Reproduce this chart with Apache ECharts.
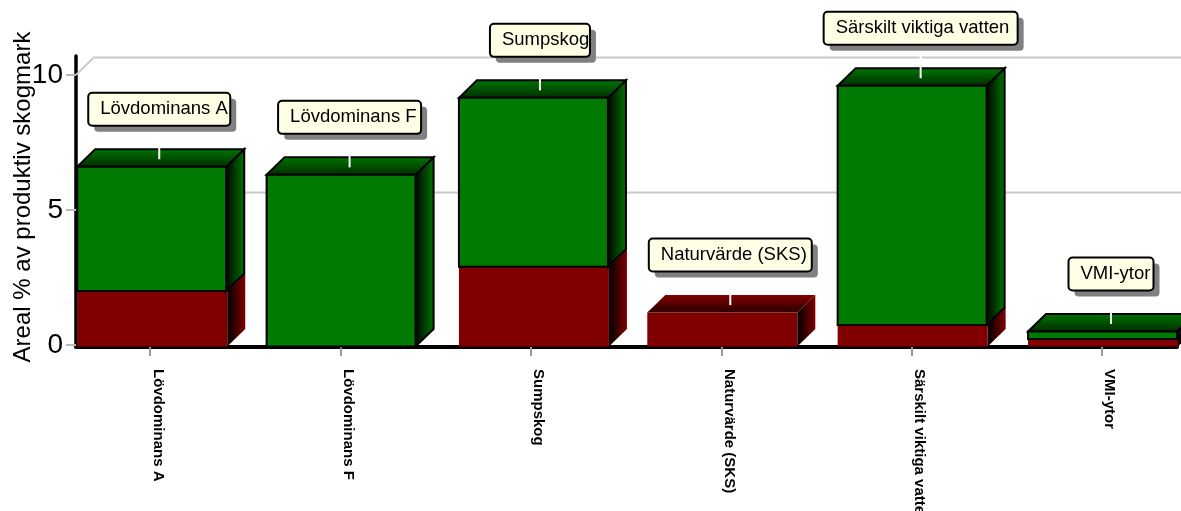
<!DOCTYPE html>
<html><head><meta charset="utf-8">
<style>html,body{margin:0;padding:0;background:#fff}#c{width:1181px;height:511px}</style>
<script src="https://cdn.jsdelivr.net/npm/echarts@6/dist/echarts.min.js"></script>
</head><body><div id="c"></div>
<script>
const categories = ['Lövdominans A','Lövdominans F','Sumpskog','Naturvärde (SKS)','Särskilt viktiga vatten','VMI-ytor'];
const redValues = [2.0, 0, 2.9, 1.2, 0.74, 0.22];
const greenValues = [4.6, 6.3, 6.25, 0, 8.86, 0.28];
const yTicks = [0, 5, 10];
const labelWidths = [142, 143, 100, 163, 194, 85];
const barShift = [1, 0, 2, 0, 0, 0];

const X_MIN = -0.39, X_MAX = 5.394;
const DX = 18, DY = 17.5;
const G = echarts.graphic;
const grad = (x, y, x2, y2, a, b) => new G.LinearGradient(x, y, x2, y2, [{offset:0,color:a},{offset:1,color:b}]);

function barItem(front, back, topDark, stroke, halfRight) {
  return function (params, api) {
    const i = api.value(0), base = api.value(1), val = api.value(2);
    if (val <= 0) return { type: 'group', children: [] };
    const b = api.coord([i, base]), t = api.coord([i, base + val]);
    const c = b[0] + barShift[i];
    const x0 = c - 74, x1 = c + halfRight, yb = b[1] + (base === 0 ? 1.5 : 0), yt = t[1];
    const lw = stroke ? 2 : 0;
    const ch = [];
    ch.push({type:'polygon', shape:{points:[[x1,yt],[x1+DX,yt-DY],[x1+DX,yb-DY],[x1,yb]]},
      style:{fill:grad(0,0,1,0,'#000000',back), stroke:stroke, lineWidth:lw}});
    ch.push({type:'polygon', shape:{points:[[x0,yt],[x0+DX,yt-DY],[x1+DX,yt-DY],[x1,yt]]},
      style:{fill:grad(0,1,0,0,topDark,back), stroke:stroke, lineWidth:lw}});
    ch.push({type:'rect', shape:{x:x0,y:yt,width:x1-x0,height:yb-yt},
      style:{fill:front, stroke:stroke, lineWidth:lw}});
    return {type:'group', children:ch};
  };
}

function gridItem(params, api) {
  const v = api.value(0);
  const a = api.coord([X_MIN, v]);
  return {type:'polyline', shape:{points:[[a[0],a[1]],[a[0]+DX,a[1]-DY],[1181,a[1]-DY]]},
    style:{fill:null, stroke:'#c8c8c8', lineWidth:2}};
}

function labelItem(params, api) {
  const i = api.value(0), tot = api.value(1);
  const p = api.coord([i, tot]);
  const cx = p[0] + 9, backTop = p[1] - DY;
  const w = labelWidths[i], h = 33, bottom = backTop - 23.5;
  const x = cx - w / 2, y = bottom - h;
  return {type:'group', children:[
    {type:'line', shape:{x1:cx,y1:bottom,x2:cx,y2:backTop+10}, style:{stroke:'#fff',lineWidth:2}},
    {type:'rect', shape:{x:x+6,y:y+6,width:w,height:h,r:4}, style:{fill:'#808080'}},
    {type:'rect', shape:{x:x,y:y,width:w,height:h,r:4}, style:{fill:'#ffffe6',stroke:'#000',lineWidth:2}, z2:2},
    {type:'text', style:{x:x+12,y:y+h/2,text:categories[i],font:'18.5px "Liberation Sans"',fill:'#000',verticalAlign:'middle',align:'left'}, z2:3}
  ]};
}

const totals = categories.map((_, i) => redValues[i] + greenValues[i]);
const chart = echarts.init(document.getElementById('c'), null, {renderer:'canvas'});
chart.setOption({
  animation:false,
  backgroundColor:'#fff',
  grid:{left:76, top:56, width:1101, height:289, outerBoundsMode:'none'},
  xAxis:{type:'value', min:X_MIN, max:X_MAX, offset:2,
    splitLine:{show:false},
    axisLine:{show:true, onZero:false, lineStyle:{color:'#000',width:4}},
    axisTick:{show:true, length:9, customValues:[0,1,2,3,4,5], lineStyle:{color:'#999',width:2}},
    axisLabel:{show:true, rotate:-90, margin:22, customValues:[0,1,2,3,4,5],
      align:'left', verticalAlign:'bottom',
      formatter:v=>categories[Math.round(v)], color:'#000',
      fontFamily:'Liberation Sans', fontWeight:'bold', fontSize:15, hideOverlap:false}
  },
  yAxis:{type:'value', min:0, max:10.7,
    name:'Areal % av produktiv skogmark', nameLocation:'middle', nameGap:41, nameMoveOverlap:false,
    nameTextStyle:{fontFamily:'Liberation Sans', fontSize:24, color:'#000', padding:[0,0,0,7]},
    splitLine:{show:false},
    axisLine:{show:true, onZero:false, lineStyle:{color:'#000',width:3.5}},
    axisTick:{show:true, length:10, customValues:yTicks, lineStyle:{color:'#bbb',width:2}},
    axisLabel:{show:true, margin:13, customValues:yTicks, color:'#000', padding:[4,0,0,0],
      fontFamily:'Liberation Sans', fontSize:28}
  },
  series:[
    {type:'custom', name:'grid', coordinateSystem:'cartesian2d', clip:false, z:1, silent:true,
      data:yTicks.slice(1).map(v=>[v]), encode:{y:0}, renderItem:gridItem},
    {type:'custom', name:'Röd', clip:false, z:2, silent:true,
      data:categories.map((_,i)=>[i,0,redValues[i]]), encode:{x:0,y:2},
      renderItem:barItem('#800000','#800000','#2a0000',null,76)},
    {type:'custom', name:'Grön', clip:false, z:3, silent:true,
      data:categories.map((_,i)=>[i,redValues[i],greenValues[i]]), encode:{x:0,y:2},
      renderItem:barItem('#007a00','#007800','#002a00','#000',75)},
    {type:'custom', name:'labels', clip:false, z:5, silent:true,
      data:categories.map((_,i)=>[i,totals[i]]), encode:{x:0,y:1},
      renderItem:labelItem}
  ]
});
</script></body></html>
